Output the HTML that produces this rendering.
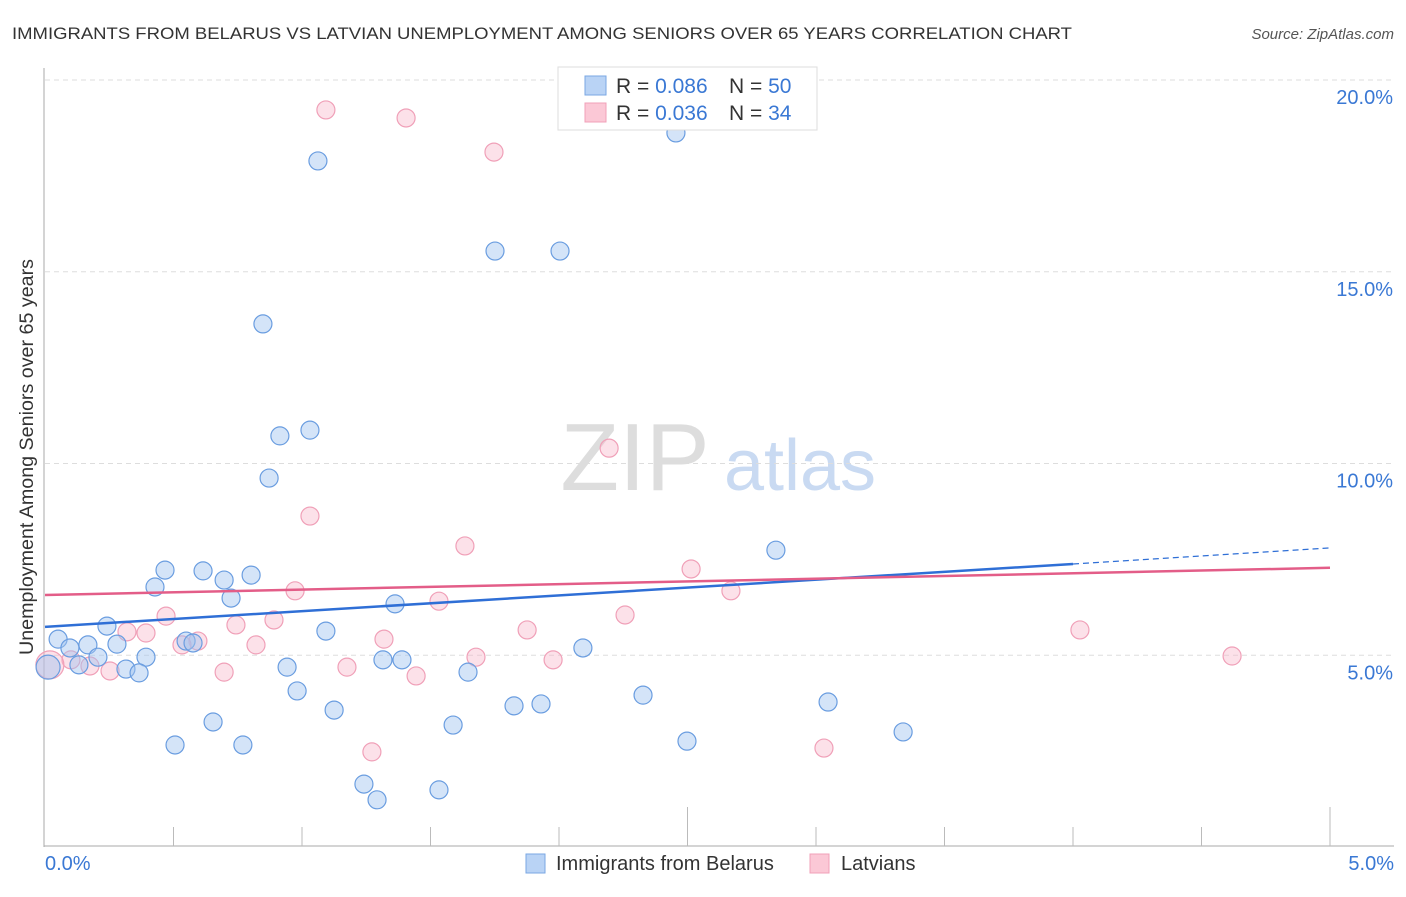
<!DOCTYPE html>
<html><head><meta charset="utf-8">
<style>
body{margin:0;background:#fff;font-family:"Liberation Sans",sans-serif;}
svg text{font-family:"Liberation Sans",sans-serif;}
</style></head>
<body>
<svg id="chart" width="1406" height="892" viewBox="0 0 1406 892" xmlns="http://www.w3.org/2000/svg">
<text x="12" y="39" font-size="17" fill="#333" textLength="1060" lengthAdjust="spacingAndGlyphs">IMMIGRANTS FROM BELARUS VS LATVIAN UNEMPLOYMENT AMONG SENIORS OVER 65 YEARS CORRELATION CHART</text>
<text x="1394" y="39" font-size="15" fill="#555" text-anchor="end" font-style="italic">Source: ZipAtlas.com</text>
<text x="635" y="490" font-size="96" fill="#ddd" text-anchor="middle" font-family="Liberation Serif, serif">ZIP</text>
<text x="800" y="490" font-size="72" fill="#c9daf2" text-anchor="middle">atlas</text>
<g id="grid"></g>
<g id="axes"></g>
<g id="marks"></g>
<g id="trends"></g>
<text transform="translate(33,457) rotate(-90)" font-size="19" fill="#333" text-anchor="middle" textLength="396" lengthAdjust="spacingAndGlyphs">Unemployment Among Seniors over 65 years</text>
<g>
<rect x="558" y="67" width="259" height="63" fill="#fff" stroke="#ddd"/>
<rect x="585" y="76" width="21" height="19" fill="#b9d3f5" stroke="#7aa7e3"/>
<rect x="585" y="103" width="21" height="19" fill="#fbc8d6" stroke="#f0a0b8"/>
<text x="616" y="93" font-size="21" fill="#333">R = <tspan fill="#3a78d4">0.086</tspan><tspan x="729">N = </tspan><tspan fill="#3a78d4">50</tspan></text>
<text x="616" y="120" font-size="21" fill="#333">R = <tspan fill="#3a78d4">0.036</tspan><tspan x="729">N = </tspan><tspan fill="#3a78d4">34</tspan></text>
</g>
<g>
<rect x="526" y="854" width="19" height="19" fill="#b9d3f5" stroke="#7aa7e3"/>
<text x="556" y="870" font-size="20" fill="#333">Immigrants from Belarus</text>
<rect x="810" y="854" width="19" height="19" fill="#fbc8d6" stroke="#f0a0b8"/>
<text x="841" y="870" font-size="20" fill="#333">Latvians</text>
</g>
</svg>
<script>
const yTicks=[5,10,15,20];
const yTickLabels=["5.0%","10.0%","15.0%","20.0%"];
const xTickLabels=["0.0%","5.0%"];
const blueX=[1.062,2.455,1.751,2.004,0.848,0.914,1.031,0.872,2.844,0.467,0.615,0.802,0.697,0.428,0.724,1.362,0.241,1.093,0.051,0.167,0.097,0.280,0.549,0.576,0.206,0.393,0.132,0.012,0.315,0.366,0.942,1.315,1.389,2.093,1.646,0.981,2.327,1.125,1.825,1.930,3.047,0.654,1.588,0.506,0.770,2.498,3.339,1.241,1.292,1.533];
const blueY=[17.89,18.62,15.54,15.54,13.64,10.72,10.87,9.62,7.74,7.22,7.20,7.09,6.96,6.78,6.49,6.34,5.76,5.63,5.42,5.27,5.19,5.29,5.37,5.32,4.95,4.95,4.75,4.69,4.64,4.54,4.69,4.88,4.88,5.19,4.56,4.07,3.96,3.57,3.68,3.73,3.78,3.26,3.18,2.66,2.66,2.76,3.00,1.64,1.23,1.49];
const pinkX=[1.093,1.405,1.747,2.195,1.031,1.634,2.514,0.973,2.669,1.533,0.471,2.257,0.891,0.743,0.393,0.319,1.876,4.027,1.319,0.595,0.533,0.821,1.677,1.977,4.619,1.175,0.101,0.175,0.253,0.697,1.444,1.272,3.031,0.019];
const pinkY=[19.22,19.01,18.12,10.40,8.63,7.85,7.25,6.68,6.68,6.41,6.02,6.05,5.92,5.79,5.58,5.61,5.66,5.66,5.42,5.37,5.27,5.27,4.95,4.88,4.98,4.69,4.88,4.72,4.59,4.56,4.46,2.48,2.58,4.75];
const blueTrend=[5.74,7.38,7.80]; // at x=0, 4, 5
const pinkTrend=[6.57,7.28]; // at x=0, 5
const NS="http://www.w3.org/2000/svg";
const X=v=>45+v/5*1285;
const Y=v=>847-v*38.35;
function mk(tag,attrs,parent){const e=document.createElementNS(NS,tag);for(const k in attrs)e.setAttribute(k,attrs[k]);parent.appendChild(e);return e;}
const grid=document.getElementById('grid'),axes=document.getElementById('axes'),marks=document.getElementById('marks'),trends=document.getElementById('trends');
yTicks.forEach((t,i)=>{
 const l=mk('line',{x1:45,x2:1394,y1:Y(t),y2:Y(t),stroke:'#ddd','stroke-dasharray':'5,4'},grid);
 
 
 const tx=mk('text',{x:1393,y:Y(t)+24,'font-size':20,fill:'#3a78d4','text-anchor':'end'},axes);
 tx.textContent=yTickLabels[i];
 
 
});
const ax=mk('line',{x1:44,x2:44,y1:68,y2:847,stroke:'#aaa'},axes);


const bx=mk('line',{x1:44,x2:1394,y1:846,y2:846,stroke:'#aaa'},axes);


for(let i=1;i<=10;i++){
 const v=i*0.5;
 const tk=mk('line',{x1:X(v),x2:X(v),y1:(i==5||i==10)?807:827,y2:846,stroke:'#bbb'},axes);
 
 
}
[[0,'start',45],[5,'end',1394]].forEach((d,i)=>{
 const tx=mk('text',{x:d[2],y:870,'font-size':20,fill:'#3a78d4','text-anchor':d[1]},axes);
 tx.textContent=xTickLabels[i];
 
 
});
pinkX.forEach((x,i)=>{
 const c=mk('circle',{cx:X(x),cy:Y(pinkY[i]),r:i==pinkX.length-1?14:9,fill:'rgba(248,180,200,0.4)',stroke:'#f0a0b8','stroke-width':1.2},marks);
 
 
});
blueX.forEach((x,i)=>{
 const c=mk('circle',{cx:X(x),cy:Y(blueY[i]),r:i==27?12:9,fill:'rgba(160,196,240,0.45)',stroke:'#6a9de0','stroke-width':1.2},marks);
 
 
});
const t1=mk('line',{x1:X(0),y1:Y(blueTrend[0]),x2:X(4),y2:Y(blueTrend[1]),stroke:'#2f6fd6','stroke-width':2.5},trends);


const t2=mk('line',{x1:X(4),y1:Y(blueTrend[1]),x2:X(5),y2:Y(blueTrend[2]),stroke:'#2f6fd6','stroke-width':1.2,'stroke-dasharray':'6,4'},trends);


const t3=mk('line',{x1:X(0),y1:Y(pinkTrend[0]),x2:X(5),y2:Y(pinkTrend[1]),stroke:'#e35d88','stroke-width':2.5},trends);


</script>
</body></html>
